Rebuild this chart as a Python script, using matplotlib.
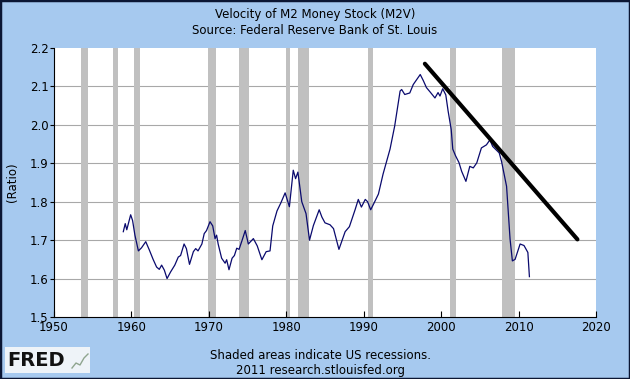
import matplotlib.pyplot as plt
from matplotlib.lines import Line2D
from matplotlib.patches import Rectangle

# M2 velocity (year, ratio)
years = [1958.95, 1959.2, 1959.4, 1959.9, 1960.15, 1960.45, 1960.9, 1961.3, 1961.85, 1962.3,
         1962.8, 1963.25, 1963.6, 1963.9, 1964.25, 1964.6, 1965.05, 1965.6, 1966.05, 1966.35,
         1966.8, 1967.1, 1967.5, 1968.0, 1968.3, 1968.6, 1969.1, 1969.4, 1969.7, 1970.15,
         1970.5, 1970.8, 1971.0, 1971.2, 1971.65, 1972.1, 1972.3, 1972.6, 1973.0, 1973.3,
         1973.6, 1973.9, 1974.3, 1974.7, 1975.1, 1975.75, 1976.25, 1976.85, 1977.4, 1977.9,
         1978.25, 1978.8, 1979.3, 1979.85, 1980.4, 1980.9, 1981.2, 1981.5, 1982.0, 1982.55,
         1983.0, 1983.5, 1984.25, 1984.6, 1985.0, 1985.65, 1986.1, 1986.8, 1987.6, 1988.15,
         1988.9, 1989.3, 1989.7, 1990.2, 1990.5, 1990.9, 1991.3, 1991.9, 1992.5, 1993.4,
         1994.0, 1994.7, 1994.9, 1995.3, 1995.95, 1996.4, 1997.3, 1997.7, 1998.1, 1998.6,
         1999.2, 1999.6, 1999.85, 2000.2, 2000.6, 2000.9, 2001.3, 2001.5, 2001.85, 2002.3,
         2002.65, 2003.2, 2003.7, 2004.15, 2004.6, 2005.2, 2005.85, 2006.3, 2006.65, 2007.5,
         2007.8, 2008.45, 2008.9, 2009.2, 2009.55, 2010.2, 2010.7, 2011.2, 2011.4]
m2v = [1.722, 1.743, 1.727, 1.766, 1.751, 1.713, 1.672, 1.680, 1.696, 1.675,
       1.650, 1.630, 1.624, 1.635, 1.622, 1.600, 1.617, 1.635, 1.656, 1.660,
       1.690, 1.678, 1.637, 1.670, 1.678, 1.672, 1.690, 1.717, 1.725, 1.748,
       1.737, 1.704, 1.713, 1.690, 1.653, 1.640, 1.649, 1.623, 1.653, 1.660,
       1.679, 1.676, 1.700, 1.725, 1.690, 1.704, 1.685, 1.649, 1.670, 1.672,
       1.737, 1.776, 1.797, 1.823, 1.787, 1.882, 1.860, 1.877, 1.800, 1.769,
       1.700, 1.738, 1.779, 1.760, 1.745, 1.740, 1.730, 1.676, 1.722, 1.735,
       1.780, 1.806, 1.786, 1.806, 1.800, 1.779, 1.795, 1.820, 1.872, 1.937,
       1.997, 2.088, 2.092, 2.079, 2.083, 2.105, 2.131, 2.115, 2.097, 2.085,
       2.070, 2.084, 2.075, 2.094, 2.078, 2.036, 1.988, 1.937, 1.920, 1.902,
       1.879, 1.853, 1.892, 1.888, 1.901, 1.940, 1.948, 1.961, 1.944, 1.927,
       1.905, 1.840, 1.703, 1.646, 1.650, 1.690, 1.686, 1.668, 1.605]

# hand-drawn trend line
trend_x = [1997.9, 2017.6]
trend_y = [2.159, 1.702]

# NBER recessions
rec_start = [1953.5, 1957.6, 1960.3, 1969.9, 1973.9, 1980.0, 1981.5, 1990.5, 2001.2, 2007.9]
rec_end = [1954.4, 1958.3, 1961.1, 1970.9, 1975.2, 1980.5, 1982.9, 1991.2, 2001.9, 2009.5]

xticks = [1950, 1960, 1970, 1980, 1990, 2000, 2010, 2020]
yticks = [1.5, 1.6, 1.7, 1.8, 1.9, 2.0, 2.1, 2.2]

bg = '#A6C9EF'
fig = plt.figure(figsize=(6.3, 3.79), dpi=100, facecolor=bg)
fig.patches.append(Rectangle((0, 0), 1, 1, transform=fig.transFigure, fill=False,
                             edgecolor='#0B1633', linewidth=2.5))

ax = fig.add_axes([54 / 630, 62 / 379, 542 / 630, 269 / 379])
ax.set_facecolor('white')

for s, e in zip(rec_start, rec_end):
    ax.axvspan(s, e, color='#C0C0C0', lw=0, zorder=1)
for y in yticks[1:-1]:
    ax.axhline(y, color='#A8A8A8', lw=0.8, zorder=0.5)

ax.plot(years, m2v, color='#0A0A6E', lw=0.9, zorder=3)
ax.plot(trend_x, trend_y, color='black', lw=3, solid_capstyle='round', zorder=4)

ax.set_xlim(1950, 2020)
ax.set_ylim(1.5, 2.2)
ax.set_xticks(xticks)
ax.set_yticks(yticks)
ax.set_yticklabels(['%.1f' % v for v in yticks])
ax.tick_params(axis='x', direction='in', length=4, labelsize=8.5, pad=3, colors='black')
ax.tick_params(axis='y', direction='out', length=3, labelsize=8.5, pad=1)
ax.spines['top'].set_visible(False)
ax.spines['right'].set_visible(False)
ax.set_ylabel('(Ratio)', fontsize=8.5, labelpad=8)

fig.text(0.5, 0.963, 'Velocity of M2 Money Stock (M2V)', ha='center', va='center', fontsize=8.5)
fig.text(0.5, 0.92, 'Source: Federal Reserve Bank of St. Louis', ha='center', va='center', fontsize=8.5)
fig.text(0.508, 0.063, 'Shaded areas indicate US recessions.', ha='center', va='center', fontsize=8.5)
fig.text(0.508, 0.023, '2011 research.stlouisfed.org', ha='center', va='center', fontsize=8.5)

# FRED logo
fig.patches.append(Rectangle((5 / 630, 6 / 379), 85 / 630, 26 / 379, transform=fig.transFigure,
                             facecolor='#EEF3F8', edgecolor='none'))
fig.text(7 / 630, 19 / 379, 'FRED', ha='left', va='center', fontsize=14, fontweight='bold',
         color='#111111')
icon_x = [72, 76, 80, 84, 88]
icon_y = [11, 16, 14, 21, 25]
fig.lines.append(Line2D([v / 630 for v in icon_x], [v / 379 for v in icon_y],
                        transform=fig.transFigure, color='#8FA58F', lw=1))

fig.savefig('out.png', dpi=100, facecolor=bg)
